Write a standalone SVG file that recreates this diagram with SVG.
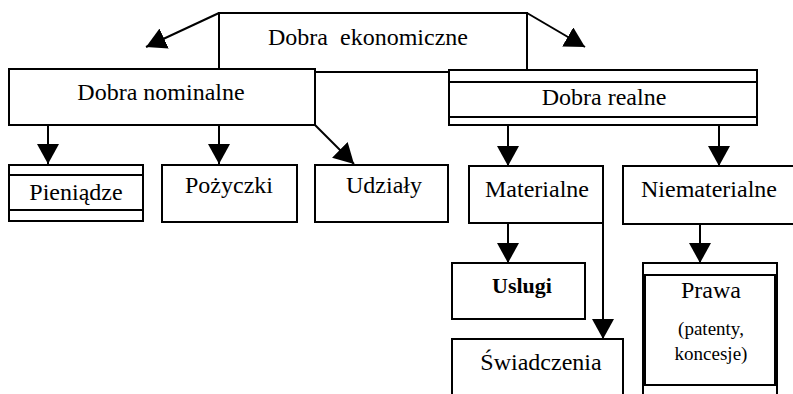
<svg xmlns="http://www.w3.org/2000/svg" width="793" height="394" viewBox="0 0 793 394">
<style>
.box{fill:#fff;stroke:#000;stroke-width:2}
.ln{fill:none;stroke:#000;stroke-width:2}
.t{font-family:"Liberation Serif","Times New Roman",serif;font-size:24px;fill:#000;text-anchor:middle}
.s{font-size:19px}
.b{font-weight:bold;font-size:22px}
</style>
<defs>
<marker id="ah" markerWidth="20" markerHeight="22" refX="20" refY="11" orient="auto" markerUnits="userSpaceOnUse">
<path d="M0,0 L20,11 L0,22 Z" fill="#000"/>
</marker>
</defs>
<g id="n-ekonomiczne">
<rect class="box" x="219" y="13" width="308" height="59"/>
<text class="t" x="368" y="45" xml:space="preserve">Dobra  ekonomiczne</text>
</g>
<g id="connectors">
<line class="ln" x1="219" y1="13" x2="146" y2="47" marker-end="url(#ah)"/>
<line class="ln" x1="527" y1="13" x2="585" y2="47" marker-end="url(#ah)"/>
<line class="ln" x1="48" y1="125" x2="48" y2="164" marker-end="url(#ah)"/>
<line class="ln" x1="219" y1="125" x2="219" y2="164" marker-end="url(#ah)"/>
<line class="ln" x1="315" y1="125" x2="354" y2="164" marker-end="url(#ah)"/>
<line class="ln" x1="508" y1="125" x2="508" y2="166" marker-end="url(#ah)"/>
<line class="ln" x1="719" y1="125" x2="719" y2="166" marker-end="url(#ah)"/>
<line class="ln" x1="508" y1="223" x2="508" y2="263" marker-end="url(#ah)"/>
<line class="ln" x1="603" y1="223" x2="603" y2="339" marker-end="url(#ah)"/>
<line class="ln" x1="700" y1="224" x2="700" y2="263" marker-end="url(#ah)"/>
</g>
<g id="n-nominalne">
<rect class="box" x="9" y="69" width="306" height="56"/>
<text class="t" x="161" y="100">Dobra nominalne</text>
</g>
<g id="n-realne">
<rect class="box" x="449" y="70" width="308" height="55"/>
<line class="ln" x1="449" y1="82" x2="757" y2="82"/>
<line class="ln" x1="449" y1="117" x2="757" y2="117"/>
<text class="t" x="604" y="105">Dobra realne</text>
</g>
<g id="n-pieniadze">
<rect class="box" x="9" y="165" width="134" height="56"/>
<line class="ln" x1="9" y1="175" x2="143" y2="175"/>
<line class="ln" x1="9" y1="210" x2="143" y2="210"/>
<text class="t" x="76" y="200">Pieniądze</text>
</g>
<g id="n-pozyczki">
<rect class="box" x="162" y="165" width="135" height="57"/>
<text class="t" x="229" y="193">Pożyczki</text>
</g>
<g id="n-udzialy">
<rect class="box" x="315" y="165" width="133" height="57"/>
<text class="t" x="384" y="193">Udziały</text>
</g>
<g id="n-materialne">
<rect class="box" x="469" y="166" width="134" height="57"/>
<text class="t" x="537" y="197">Materialne</text>
</g>
<g id="n-niematerialne">
<rect class="box" x="623" y="166" width="180" height="58"/>
<text class="t" x="709" y="197">Niematerialne</text>
</g>
<g id="n-uslugi">
<rect class="box" x="452" y="263" width="133" height="56"/>
<text class="t b" x="522" y="293">Uslugi</text>
</g>
<g id="n-swiadczenia">
<rect class="box" x="452" y="339" width="171" height="70"/>
<text class="t" x="541" y="370">Świadczenia</text>
</g>
<g id="n-prawa">
<rect class="box" x="643" y="263" width="134" height="140"/>
<line class="ln" x1="643" y1="275" x2="777" y2="275"/>
<line class="ln" x1="643" y1="385" x2="777" y2="385"/>
<line class="ln" x1="645" y1="275" x2="645" y2="385"/>
<line class="ln" x1="775" y1="275" x2="775" y2="385"/>
<text class="t" x="711" y="298">Prawa</text>
<text class="t s" x="711" y="335">(patenty,</text>
<text class="t s" x="711" y="360">koncesje)</text>
</g>
</svg>
